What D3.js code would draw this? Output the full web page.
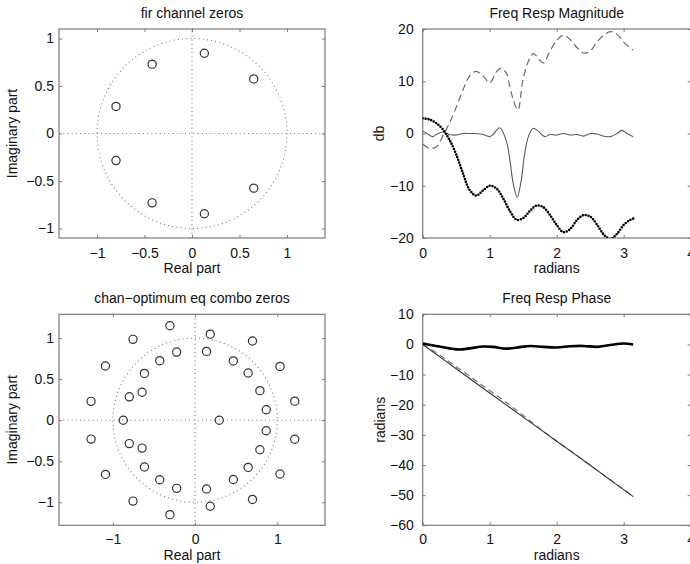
<!DOCTYPE html>
<html><head><meta charset="utf-8">
<script src="https://cdn.jsdelivr.net/npm/d3@7"></script>
<style>
body{margin:0;background:#fff;}
text{font-family:"Liberation Sans",Arial,Helvetica,sans-serif;}
</style></head>
<body><svg id="c" width="690" height="564"></svg>
<script>
// ---- data ----
const chanZeros = [[0.13,0.845],[0.13,-0.845],[0.65,0.575],[0.65,-0.575],[-0.42,0.73],[-0.42,-0.73],[-0.8,0.285],[-0.8,-0.285]];
const comboZerosUpper = [[-0.306,1.15],[-0.755,0.985],[-1.09,0.66],[-1.265,0.23],[-0.224,0.83],[-0.43,0.725],[-0.616,0.57],[-0.645,0.34],[-0.8,0.285],
  [0.184,1.048],[0.139,0.838],[0.698,0.965],[0.465,0.722],[0.645,0.575],[1.033,0.655],[0.788,0.36],[0.865,0.128],[1.212,0.232]];
const comboZerosReal = [[-0.873,0],[0.294,0]];
const magW = [0,0.1,0.2,0.3,0.4,0.5,0.6,0.7,0.8,0.9,1.0,1.1,1.2,1.3,1.4,1.5,1.6,1.7,1.8,1.9,2.0,2.1,2.2,2.3,2.4,2.5,2.6,2.7,2.8,2.9,3.0,3.1,3.1416];
const magChan = [2.9,2.7,2.0,0.8,-1.2,-4.0,-7.6,-10.8,-11.9,-10.9,-10.0,-10.5,-12.4,-14.8,-16.5,-16.2,-14.8,-13.8,-14.1,-15.6,-17.5,-18.9,-18.3,-16.6,-15.6,-15.9,-17.4,-19.3,-20.2,-19.2,-17.5,-16.5,-16.3];
const eqW = [0,0.1,0.2,0.3,0.4,0.5,0.6,0.7,0.8,0.9,1.0,1.1,1.17,1.25,1.3,1.35,1.42,1.5,1.6,1.65,1.7,1.8,1.9,2.0,2.1,2.2,2.3,2.4,2.5,2.6,2.7,2.8,2.9,3.0,3.1,3.1416];
const magEq = [-2.0,-2.8,-2.6,-0.5,2.0,5.0,8.3,11.0,11.9,11.0,9.7,11.8,12.5,11.5,9.0,6.5,4.5,10.5,14.5,15.3,14.8,13.5,15.8,17.8,18.8,18.0,16.5,15.4,15.8,17.5,18.8,19.5,19.0,17.5,16.3,16.0];
const combW = [0,0.1,0.15,0.2,0.3,0.4,0.5,0.6,0.7,0.8,0.9,1.0,1.05,1.15,1.25,1.3,1.35,1.41,1.47,1.52,1.58,1.65,1.72,1.82,1.9,2.0,2.1,2.2,2.3,2.4,2.5,2.6,2.7,2.8,2.9,2.97,3.05,3.1416];
const magComb = [0.5,-0.3,-0.6,-0.2,0.3,-0.2,-0.3,0.0,0.0,0.0,-0.2,-0.6,-0.2,1.1,-1.5,-5,-9.5,-12.2,-9,-4,-0.5,1.0,0.5,-0.6,-0.2,-0.3,0.0,-0.3,-0.2,-0.5,0.0,-0.1,-0.5,-0.6,0.0,0.6,0.0,-0.6];
const phW = [0,0.2,0.4,0.55,0.7,0.9,1.05,1.25,1.45,1.6,1.8,2.0,2.2,2.4,2.6,2.8,3.0,3.1416];
const phChan = [0.3,-0.5,-1.3,-1.7,-1.3,-0.7,-0.8,-1.4,-0.9,-0.5,-0.8,-1.0,-0.6,-0.5,-0.8,-0.2,0.3,0.0];
const phEqW = [0,0.2,0.4,0.6,0.8,1.0,1.2,1.4,1.6,1.8,2.0,2.2,2.4,2.6,2.8,3.0,3.1416];
const phEq = [0,-2.7,-5.8,-8.9,-12.1,-15.3,-18.5,-21.8,-25.3,-28.8,-32.0,-35.2,-38.4,-41.7,-44.9,-48.1,-50.4];
const phCombW = [0,0.5,1.0,1.5,2.0,2.5,3.1416];
const phComb = [0,-8.05,-16.1,-24.1,-32.1,-40.1,-50.5];
const xtZ1=[-1,-0.5,0,0.5,1], ytZ=[-1,-0.5,0,0.5,1], xtZ2=[-1,0,1];
const xtF=[0,1,2,3,4], ytMag=[-20,-10,0,10,20], ytPh=[-60,-50,-40,-30,-20,-10,0,10];

const svg = d3.select("#c");
const fmt = d => String(d).replace("-", "\u2212");
const boxCol = "#7a7a7a";

function panel(o){
  const x = d3.scaleLinear().domain(o.xd).range(o.xr);
  const y = d3.scaleLinear().domain(o.yd).range(o.yr);
  const g = svg.append("g");
  const clipId = "clip"+o.id;
  svg.append("clipPath").attr("id",clipId).append("rect")
    .attr("x",o.xr[0]).attr("y",o.yr[1]).attr("width",o.xr[1]-o.xr[0]).attr("height",o.yr[0]-o.yr[1]);
  const styleAxis = (s, labels) => {
    s.select(".domain").remove();
    s.selectAll(".tick line").attr("stroke",boxCol);
    s.selectAll(".tick text").attr("fill","#111").style("font-size","14px");
    if(!labels) s.selectAll(".tick text").remove();
  };
  g.append("g").attr("transform",`translate(0,${o.yr[0]})`)
    .call(d3.axisBottom(x).tickValues(o.xt).tickSize(-3).tickPadding(o.xpad).tickFormat(fmt)).call(s=>styleAxis(s,true));
  g.append("g").attr("transform",`translate(0,${o.yr[1]})`)
    .call(d3.axisTop(x).tickValues(o.xt).tickSize(-3)).call(s=>styleAxis(s,false));
  g.append("g").attr("transform",`translate(${o.xr[0]},0)`)
    .call(d3.axisLeft(y).tickValues(o.yt).tickSize(-3).tickPadding(o.ypad).tickFormat(fmt)).call(s=>styleAxis(s,true));
  g.append("g").attr("transform",`translate(${o.xr[1]},0)`)
    .call(d3.axisRight(y).tickValues(o.yt).tickSize(-3)).call(s=>styleAxis(s,false));
  const plot = svg.append("g").attr("clip-path",`url(#${clipId})`);
  g.append("rect").attr("x",o.xr[0]).attr("y",o.yr[1]).attr("width",o.xr[1]-o.xr[0]).attr("height",o.yr[0]-o.yr[1])
    .attr("fill","none").attr("stroke",boxCol).attr("stroke-width",1.2);
  const cx=(o.xr[0]+o.xr[1])/2;
  g.append("text").attr("x",cx).attr("y",o.yr[1]-11).attr("text-anchor","middle").style("font-size","14px").attr("fill","#111").text(o.title);
  g.append("text").attr("x",cx).attr("y",o.yr[0]+35).attr("text-anchor","middle").style("font-size","14px").attr("fill","#111").text(o.xlabel);
  const cy=(o.yr[0]+o.yr[1])/2;
  g.append("text").attr("transform",`translate(${o.ylx},${cy}) rotate(-90)`).attr("text-anchor","middle").style("font-size","14px").attr("fill","#111").text(o.ylabel);
  return {x,y,plot};
}

function zeroPlot(p, pts){
  const {x,y,plot}=p;
  const dot = {stroke:"#777","stroke-width":1.1,"stroke-dasharray":"1 3.2",fill:"none"};
  const apply=(s)=>{for(const k in dot) s.attr(k,dot[k]); return s;};
  apply(plot.append("line").attr("x1",x.range()[0]).attr("x2",x.range()[1]).attr("y1",y(0)).attr("y2",y(0)));
  apply(plot.append("line").attr("x1",x(0)).attr("x2",x(0)).attr("y1",y.range()[0]).attr("y2",y.range()[1]));
  apply(plot.append("ellipse").attr("cx",x(0)).attr("cy",y(0)).attr("rx",x(1)-x(0)).attr("ry",y(0)-y(1)));
  plot.selectAll("circle.z").data(pts).join("circle").attr("class","z")
    .attr("cx",d=>x(d[0])).attr("cy",d=>y(d[1])).attr("r",4.1)
    .attr("fill","none").attr("stroke","#333").attr("stroke-width",1.2);
}

// Panel 1
const p1 = panel({id:1,xd:[-1.4,1.4],yd:[-1.1,1.1],xr:[59,325],yr:[238,29],xt:xtZ1,yt:ytZ,xpad:10,ypad:5,ylx:17,
  title:"fir channel zeros",xlabel:"Real part",ylabel:"Imaginary part"});
zeroPlot(p1, chanZeros);

// Panel 3
const comboZeros = comboZerosUpper.concat(comboZerosUpper.map(d=>[d[0],-d[1]]), comboZerosReal);
const p3 = panel({id:3,xd:[-1.655,1.58],yd:[-1.28,1.29],xr:[59,325],yr:[525.3,314.3],xt:xtZ2,yt:ytZ,xpad:9,ypad:5,ylx:17,
  title:"chan\u2212optimum eq combo zeros",xlabel:"Real part",ylabel:"Imaginary part"});
zeroPlot(p3, comboZeros);

// Panel 2
const p2 = panel({id:2,xd:[0,4],yd:[-20,20],xr:[422.7,690.7],yr:[238,29],xt:xtF,yt:ytMag,xpad:10,ypad:9,ylx:384,
  title:"Freq Resp Magnitude",xlabel:"radians",ylabel:"db"});
function curve(p, xs, ys, attrs){
  const line = d3.line().x(d=>p.x(d[0])).y(d=>p.y(d[1])).curve(d3.curveCatmullRom.alpha(0.5));
  const path = p.plot.append("path").datum(xs.map((v,i)=>[v,ys[i]])).attr("d",line).attr("fill","none");
  for(const k in attrs) path.attr(k,attrs[k]);
}
curve(p2, eqW, magEq, {stroke:"#6a6a6a","stroke-width":1.2,"stroke-dasharray":"7 4"});
curve(p2, combW, magComb, {stroke:"#5a5a5a","stroke-width":1.1});
curve(p2, magW, magChan, {stroke:"#000","stroke-width":2.6,"stroke-dasharray":"0 2.9","stroke-linecap":"round"});

// Panel 4
const p4 = panel({id:4,xd:[0,4],yd:[-60,10],xr:[422.7,690.7],yr:[525.3,314.3],xt:xtF,yt:ytPh,xpad:9,ypad:9,ylx:385,
  title:"Freq Resp Phase",xlabel:"radians",ylabel:"radians"});
curve(p4, phEqW, phEq, {stroke:"#777","stroke-width":1.2,"stroke-dasharray":"6 4"});
curve(p4, phCombW, phComb, {stroke:"#333","stroke-width":1.1});
curve(p4, phW, phChan, {stroke:"#000","stroke-width":2.6});
</script></body></html>
